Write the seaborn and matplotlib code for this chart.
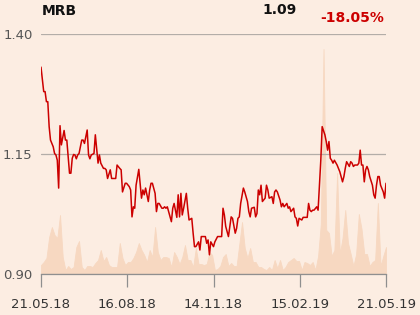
import matplotlib
matplotlib.use("Agg")
import matplotlib.pyplot as plt
import seaborn as sns
import pandas as pd

# ---------------- data ----------------
title = "MRB"
last_price = "1.09"
change = "-18.05%"

tick_days = [0, 63.5, 127, 190.5, 254]          # trading-day index
tick_labels = ["21.05.18", "16.08.18", "14.11.18", "15.02.19", "21.05.19"]
y_ticks = [0.90, 1.15, 1.40]
y_tick_labels = ["0.90", "1.15", "1.40"]

price_day = [0, 2, 3, 4, 5, 6, 7, 9, 10, 11, 12, 13, 14, 15, 17, 18, 19, 20, 21, 22,
             23, 24, 25, 26, 27, 28, 30, 31, 32, 34, 35, 36, 37, 39, 40, 42, 43, 44, 46, 47,
             48, 49, 51, 52, 53, 55, 56, 58, 59, 60, 62, 63, 65, 66, 67, 68, 69, 70, 72, 73,
             74, 75, 76, 77, 79, 80, 81, 82, 84, 85, 86, 87, 89, 90, 91, 92, 93, 95, 96, 97,
             98, 99, 100, 101, 102, 103, 104, 105, 107, 108, 109, 111, 112, 113, 114, 116, 117, 118, 119, 121,
             122, 123, 124, 125, 127, 128, 130, 132, 133, 134, 135, 136, 138, 139, 140, 141, 143, 144, 145, 146,
             147, 149, 150, 152, 153, 154, 155, 157, 158, 159, 160, 161, 162, 163, 165, 166, 167, 168, 170, 171,
             172, 173, 174, 176, 177, 178, 179, 181, 182, 183, 184, 186, 187, 188, 189, 190, 192, 193, 195, 196,
             197, 198, 199, 200, 201, 203, 204, 205, 206, 207, 209, 210, 211, 212, 213, 214, 215, 216, 218, 219,
             220, 222, 223, 224, 225, 227, 228, 229, 230, 231, 233, 234, 235, 236, 237, 238, 239, 240, 241, 242,
             244, 245, 246, 247, 248, 249, 250, 252, 253, 254]

price = [1.331, 1.280, 1.280, 1.259, 1.259, 1.207, 1.179, 1.165, 1.151, 1.148, 1.137, 1.079, 1.209, 1.169, 1.199, 1.179, 1.179, 1.144, 1.110, 1.110,
         1.141, 1.149, 1.148, 1.140, 1.148, 1.151, 1.179, 1.179, 1.172, 1.200, 1.148, 1.140, 1.148, 1.151, 1.190, 1.131, 1.148, 1.131, 1.120, 1.120,
         1.117, 1.099, 1.117, 1.099, 1.099, 1.099, 1.127, 1.120, 1.117, 1.071, 1.089, 1.089, 1.082, 1.075, 1.019, 1.040, 1.037, 1.085, 1.118, 1.089,
         1.058, 1.075, 1.065, 1.079, 1.051, 1.075, 1.089, 1.089, 1.068, 1.030, 1.047, 1.047, 1.037, 1.037, 1.040, 1.037, 1.040, 1.019, 1.009, 1.037,
         1.047, 1.033, 1.018, 1.065, 1.019, 1.068, 1.023, 1.037, 1.068, 1.037, 1.0125, 1.016, 0.985, 0.957, 0.957, 0.967, 0.950, 0.978, 0.978, 0.978,
         0.964, 0.971, 0.940, 0.967, 0.957, 0.967, 0.978, 0.978, 0.978, 1.037, 1.023, 0.999, 0.978, 0.999, 1.019, 1.016, 0.985, 0.995, 1.016, 1.019,
         1.047, 1.079, 1.071, 1.051, 1.030, 1.019, 1.037, 1.039, 1.019, 1.026, 1.075, 1.065, 1.085, 1.051, 1.058, 1.085, 1.075, 1.058, 1.061, 1.047,
         1.071, 1.075, 1.071, 1.054, 1.040, 1.047, 1.040, 1.047, 1.037, 1.040, 1.030, 1.037, 1.019, 1.016, 1.000, 1.016, 1.0125, 1.018, 1.018, 1.018,
         1.047, 1.033, 1.030, 1.033, 1.033, 1.040, 1.033, 1.085, 1.137, 1.207, 1.190, 1.176, 1.158, 1.176, 1.141, 1.137, 1.131, 1.137, 1.127, 1.120,
         1.113, 1.092, 1.103, 1.120, 1.134, 1.124, 1.134, 1.131, 1.124, 1.127, 1.127, 1.131, 1.158, 1.127, 1.127, 1.092, 1.117, 1.124, 1.117, 1.103,
         1.085, 1.065, 1.058, 1.085, 1.103, 1.103, 1.085, 1.071, 1.058, 1.089]

# volume, every second trading day (days 0, 2, ..., 254), relative units
volume = [9, 12, 16, 37, 47, 39, 36, 59, 17, 4, 8, 5, 7, 27, 33, 7, 4, 8, 8, 7,
          11, 14, 24, 13, 17, 9, 7, 7, 7, 31, 16, 9, 12, 12, 16, 22, 31, 24, 19, 12,
          24, 17, 47, 22, 14, 17, 17, 16, 7, 22, 17, 10, 17, 29, 14, 14, 7, 26, 10, 10,
          9, 10, 22, 19,
          4, 5, 8, 17, 20, 8, 11, 8, 8, 30, 52, 26, 16, 26, 12, 12, 7, 7, 5, 4,
          7, 4, 14, 6, 14, 4, 7, 12, 14, 16, 13, 13, 4, 12, 11, 9, 12, 4, 18, 50,
          225, 44, 41, 18, 24, 101, 20, 36, 64, 31, 20, 8, 20, 60, 45, 20, 20, 8, 12, 14,
          71, 8, 18, 27]
volume_day = list(range(0, 256, 2))

# ---------------- style ----------------
sns.set_theme(style="white")
plt.rcParams['font.family'] = ['DejaVu Sans']

bg = '#FCEDE2'
vol_color = '#F7D8C1'
line_color = '#CC0000'
grid_color = '#B3ADA8'

fig = plt.figure(figsize=(4.2, 3.15), dpi=100, facecolor=bg)
rect = [41 / 420, 41 / 315, 345 / 420, 240 / 315]
ax_vol = fig.add_axes(rect)
ax_vol.set_facecolor(bg)
ax = fig.add_axes(rect, sharex=ax_vol)
ax.patch.set_visible(False)

# volume area
vol_df = pd.DataFrame({"day": volume_day, "vol": volume})
ax_vol.fill_between(vol_df["day"], 0, vol_df["vol"], facecolor=vol_color,
                    edgecolor=vol_color, lw=0.6)
ax_vol.set_ylim(0, 240)
ax_vol.set_yticks([])
for s in ax_vol.spines.values():
    s.set_visible(False)
ax_vol.tick_params(axis='x', which='both', bottom=False, labelbottom=False)

# price line
df = pd.DataFrame({"day": price_day, "price": price})
sns.lineplot(data=df, x="day", y="price", ax=ax, color=line_color, lw=1.1)
ax.set_xlim(0, 254)
ax.set_ylim(0.90, 1.40)
ax.set_xlabel("")
ax.set_ylabel("")
ax.set_yticks(y_ticks)
ax.set_yticklabels(y_tick_labels)
ax.set_xticks(tick_days)
ax.set_xticklabels(tick_labels)
ax.yaxis.grid(True, color=grid_color, lw=0.9)
ax.xaxis.grid(False)
for k in ['top', 'right', 'left']:
    ax.spines[k].set_visible(False)
ax.spines['bottom'].set_color('#8F8F8F')
ax.spines['bottom'].set_linewidth(0.9)
ax.tick_params(axis='y', length=0, pad=6, labelsize=9.5, labelcolor='#555555')
ax.tick_params(axis='x', length=9.5, width=0.9, color='#8F8F8F', pad=7.5,
               labelsize=9.5, labelcolor='#333333', bottom=True)

# header texts
fig.text(42 / 420, 1 - 15 / 315, title, fontsize=10, fontweight='bold',
         color='#111111', ha='left', va='baseline')
fig.text(297 / 420, 1 - 14 / 315, last_price, fontsize=10, fontweight='bold',
         color='#111111', ha='right', va='baseline')
fig.text(320 / 420, 1 - 21.5 / 315, change, fontsize=10, fontweight='bold',
         color=line_color, ha='left', va='baseline')

fig.savefig("out.png", dpi=100, facecolor=bg)
